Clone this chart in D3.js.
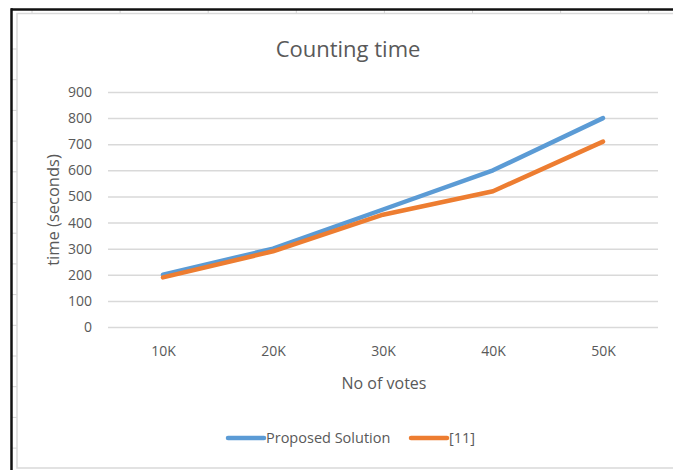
<!DOCTYPE html>
<html>
<head>
<meta charset="utf-8">
<script src="https://cdn.jsdelivr.net/npm/d3@7/dist/d3.min.js"></script>
<style>
  html, body { margin: 0; padding: 0; background: #fff; }
  svg { display: block; }
  text { font-family: "Open Sans", "Noto Sans", sans-serif; fill: #595959; }
</style>
</head>
<body>
<svg id="chart" width="673" height="470"></svg>
<script>
// Counting time for each vote count
const categories = ["10K", "20K", "30K", "40K", "50K"];
const proposedSolution = [200, 300, 450, 600, 800];
const reference11 = [190, 290, 430, 520, 710];
const yTicks = [0, 100, 200, 300, 400, 500, 600, 700, 800, 900];
const seriesNames = ["Proposed Solution", "[11]"];

const colors = ["#5b9bd5", "#ed7d31"];
const W = 673, H = 470;
const svg = d3.select("#chart");

// spreadsheet cells peeking out around the chart object
const sheet = svg.append("g").attr("stroke", "#d4d4d4").attr("stroke-width", 1);
d3.range(32, W, 88.1).forEach(x => {
  sheet.append("line").attr("x1", x).attr("x2", x).attr("y1", 10).attr("y2", 13);
});
d3.range(49, H, 30.7).forEach(y => {
  sheet.append("line").attr("x1", 12).attr("x2", 17).attr("y1", y).attr("y2", y);
});

// chart object border and outer frame
svg.append("rect").attr("x", 17).attr("y", 13.5).attr("width", W + 10).attr("height", 454.5)
  .attr("fill", "#fff").attr("stroke", "#d9d9d9").attr("stroke-width", 1.5);
svg.append("line").attr("x1", 11).attr("x2", W).attr("y1", 9.5).attr("y2", 9.5)
  .attr("stroke", "#111").attr("stroke-width", 2.5);
svg.append("line").attr("x1", 11.5).attr("x2", 11.5).attr("y1", 8.3).attr("y2", H)
  .attr("stroke", "#111").attr("stroke-width", 2.5);

const plot = { left: 108, right: 658, top: 92, bottom: 327 };

const x = d3.scalePoint().domain(categories).range([plot.left, plot.right]).padding(0.5);
const y = d3.scaleLinear().domain([0, 900]).range([plot.bottom, plot.top]);

// horizontal gridlines + value labels
const yAxis = svg.append("g")
  .attr("transform", `translate(${plot.left},0)`)
  .call(d3.axisLeft(y).tickValues(yTicks).tickSize(-(plot.right - plot.left)).tickPadding(16));
yAxis.select(".domain").remove();
yAxis.selectAll(".tick line").attr("stroke", "#d9d9d9").attr("stroke-width", 1.5);
yAxis.selectAll(".tick text").attr("font-size", 14).style("fill", "#595959");

// category labels
const xAxis = svg.append("g")
  .attr("transform", `translate(0,${plot.bottom})`)
  .call(d3.axisBottom(x).tickSize(0).tickPadding(19));
xAxis.select(".domain").remove();
xAxis.selectAll(".tick text").attr("font-size", 14).style("fill", "#595959");

// titles
svg.append("text").attr("x", 348).attr("y", 57).attr("text-anchor", "middle")
  .attr("font-size", 22).text("Counting time");
svg.append("text").attr("x", 384).attr("y", 389).attr("text-anchor", "middle")
  .attr("font-size", 16).text("No of votes");
svg.append("text").attr("transform", "translate(59,210) rotate(-90)").attr("text-anchor", "middle")
  .attr("font-size", 16.5).text("time (seconds)");

// series lines
const line = d3.line().x((d, i) => x(categories[i])).y(d => y(d));
[proposedSolution, reference11].forEach((vals, i) => {
  svg.append("path").datum(vals).attr("d", line)
    .attr("fill", "none").attr("stroke", colors[i]).attr("stroke-width", 4.5)
    .attr("stroke-linecap", "round").attr("stroke-linejoin", "round");
});

// legend
const legendItems = [{ x: 228, w: 36 }, { x: 411, w: 36 }];
legendItems.forEach((it, i) => {
  const g = svg.append("g").attr("transform", `translate(${it.x},438)`);
  g.append("line").attr("x1", 0).attr("x2", it.w).attr("y1", 0).attr("y2", 0)
    .attr("stroke", colors[i]).attr("stroke-width", 4.5).attr("stroke-linecap", "round");
  g.append("text").attr("x", it.w + 2).attr("y", 5).attr("font-size", 14.5).text(seriesNames[i]);
});
</script>
</body>
</html>
